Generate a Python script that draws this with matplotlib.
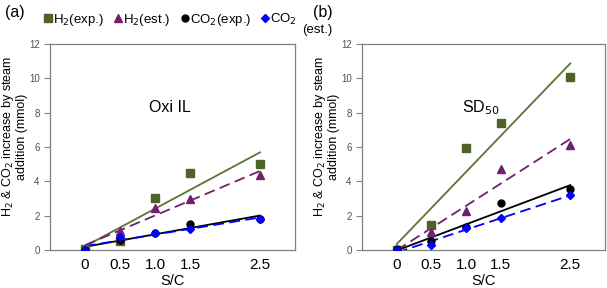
import numpy as np
import matplotlib
matplotlib.use("Agg")
import matplotlib.pyplot as plt
from matplotlib.lines import Line2D

plt.rcParams['font.family'] = ['Liberation Sans', 'DejaVu Sans']

sc = [0, 0.5, 1.0, 1.5, 2.5]
xtick_labels = ["0", "0.5", "1.0", "1.5", "2.5"]

# Panel (a) Oxi IL
a_h2_exp = [0.05, 0.55, 3.05, 4.47, 5.0]
a_h2_est = [0.0, 1.12, 2.44, 2.98, 4.37]
a_co2_exp = [0.0, 0.6, 1.0, 1.52, 1.82]
a_co2_est = [0.0, 0.78, 0.99, 1.22, 1.82]

# Panel (b) SD50
b_h2_exp = [0.0, 1.47, 5.92, 7.42, 10.06]
b_h2_est = [0.0, 1.07, 2.26, 4.73, 6.12]
b_co2_exp = [0.03, 0.52, 1.36, 2.75, 3.58]
b_co2_est = [0.0, 0.28, 1.27, 1.85, 3.2]

C_GREEN = '#4F6228'
C_GREEN_LINE = '#5F7137'
C_PURPLE = '#702070'
C_BLUE = '#0000FF'
C_BLACK = '#000000'

fig = plt.figure(figsize=(6.07, 2.88), dpi=100)
W, H = 607, 288
ax_a = fig.add_axes([50 / W, 1 - 250 / H, 245 / W, 206 / H])
ax_b = fig.add_axes([362 / W, 1 - 250 / H, 243 / W, 206 / H])


def trend(ax, y, color, ls):
    p = np.polyfit(sc, y, 1)
    xx = np.array([sc[0], sc[-1]])
    ax.plot(xx, np.polyval(p, xx), color=color, ls=ls, lw=1.3,
            dashes=(6, 3) if ls == '--' else (None, None), zorder=2)


def panel(ax, h2e, h2s, co2e, co2s, title, labx):
    trend(ax, h2e, C_GREEN_LINE, '-')
    trend(ax, h2s, C_PURPLE, '--')
    trend(ax, co2e, C_BLACK, '-')
    trend(ax, co2s, C_BLUE, '--')
    ax.plot(sc, h2e, 's', color=C_GREEN, ms=5.5, ls='none', zorder=3)
    ax.plot(sc, h2s, '^', color=C_PURPLE, ms=6, ls='none', zorder=3)
    ax.plot(sc, co2e, 'o', color=C_BLACK, ms=5, ls='none', zorder=3)
    ax.plot(sc, co2s, 'D', color=C_BLUE, ms=4.5, ls='none', zorder=4)
    ax.set_xlim(-0.5, 3.0)
    ax.set_ylim(0, 12)
    ax.set_yticks(range(0, 13, 2))
    ax.set_xticks(sc)
    ax.set_xticklabels(xtick_labels, fontsize=11)
    ax.tick_params(axis='x', length=0, pad=6)
    ax.tick_params(axis='y', labelsize=7, length=4, color='#808080', labelcolor='#505050')
    for s in ax.spines.values():
        s.set_color('#808080')
        s.set_linewidth(0.9)
    ax.set_xlabel('S/C', fontsize=10.5, labelpad=1)
    ax.set_ylabel('H$_2$ & CO$_2$ increase by steam\naddition (mmol)', fontsize=9,
                  linespacing=1.0)
    ax.yaxis.set_label_coords(labx, 0.55)
    ax.text(0.49, 0.69, title, transform=ax.transAxes, fontsize=11.5, ha='center', va='center')


panel(ax_a, a_h2_exp, a_h2_est, a_co2_exp, a_co2_est, 'Oxi IL', -0.09)
panel(ax_b, b_h2_exp, b_h2_est, b_co2_exp, b_co2_est, 'SD$_{50}$', -0.09)

fig.text(5 / W, 1 - 13 / H, '(a)', fontsize=11.5, va='center')
fig.text(313 / W, 1 - 13 / H, '(b)', fontsize=11.5, va='center')

handles = [
    Line2D([], [], marker='s', color=C_GREEN, ls='none', ms=5.5),
    Line2D([], [], marker='^', color=C_PURPLE, ls='none', ms=6),
    Line2D([], [], marker='o', color=C_BLACK, ls='none', ms=5),
    Line2D([], [], marker='D', color=C_BLUE, ls='none', ms=4.5),
]
labels = ['H$_2$(exp.)', 'H$_2$(est.)', 'CO$_2$(exp.)', 'CO$_2$']
fig.legend(handles, labels, loc='center left', bbox_to_anchor=(44 / W, 1 - 20 / H),
           ncol=4, frameon=False, fontsize=9.5, handlelength=0.6, handletextpad=0.1,
           columnspacing=0.75, borderaxespad=0, borderpad=0)
fig.text(302 / W, 1 - 30 / H, '(est.)', fontsize=9.5, va='center')

fig.savefig('out.png', dpi=100)
